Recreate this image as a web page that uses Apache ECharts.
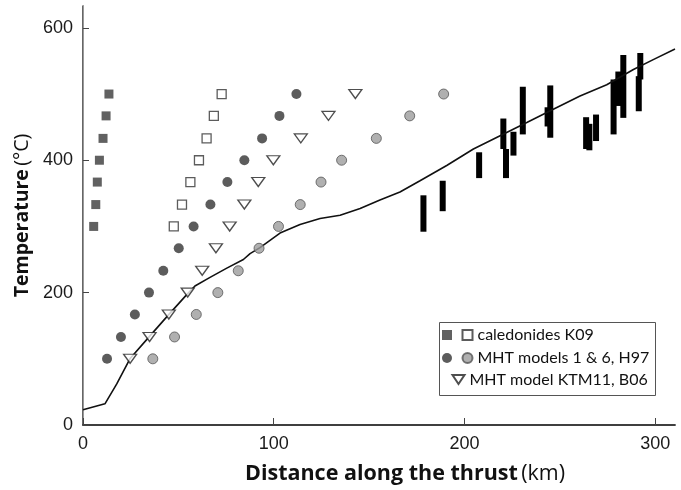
<!DOCTYPE html>
<html>
<head>
<meta charset="utf-8">
<script src="https://cdn.jsdelivr.net/npm/echarts@6/dist/echarts.min.js"></script>
<style>
html,body{margin:0;padding:0;background:#fff;}
#chart{width:681px;height:490px;}
</style>
</head>
<body>
<div id="chart"></div>
<script>
// ---- data ----
const levels = [100,133,167,200,233,267,300,333,367,400,433,467,500];
const caledFilledX = [5.6,6.7,7.5,8.6,10.5,12.1,13.6];           // y: 300..500
const caledOpenX   = [47.6,51.9,56.3,60.8,64.8,68.6,72.7];        // y: 300..500
const h97Model1X   = [12.6,19.9,27.2,34.6,42.1,50.2,58.0,66.8,75.7,84.6,93.9,103.0,111.9]; // y: 100..500
const h97Model6X   = [36.6,48.0,59.4,70.7,81.4,92.3,102.5,113.9,124.8,135.6,153.8,171.3,189.1];
const b06X         = [24.7,34.9,45.0,54.9,62.5,69.7,76.9,84.6,91.9,99.8,114.2,128.7,142.8];
const curveX = [0,11.5,17.7,24.6,34.3,44.7,54.4,58.7,66.6,75.4,84.1,87.6,92.8,103.3,113.8,124.3,134.8,145.3,155.7,166.2,176.7,190.7,204.7,218.7,232.7,246.6,260.6,274.6,288.6,299,310.4];
const curveY = [23,32,62,100,132,166,197,210,223,237,250,259,268,290,303,312,317,327,340,352,369,392,417,437,457,477,497,514,537,552,568];
const barX    = [178.5,188.6,207.7,220.4,221.8,225.7,230.6,245.0,243.6,263.8,265.5,269.0,278.2,280.7,283.3,292.2,291.4];
const barLow  = [292,323,373,417,373,407,439,434,451,417,415,429,439,482,464,522,474];
const barHigh = [347,369,412,463,417,443,511,513,480,465,455,469,522,534,559,562,527];
const xTicks = [0,100,200,300];
const yTicks = [0,200,400,600];
const legendNames = ['caledonides K09','MHT models 1 & 6, H97','MHT model KTM11, B06'];

const pair = (xs, ys) => xs.map((x,i)=>[x, ys[i]]);
const upper = levels.slice(6);

const tickFont = {fontFamily:'Liberation Sans', fontSize:18, color:'#1a1a1a'};
const chart = echarts.init(document.getElementById('chart'), null, {renderer:'canvas'});
chart.setOption({
  animation:false,
  backgroundColor:'#fff',
  grid:{left:83, right:6, top:6, bottom:62},
  xAxis:[{
    type:'value', min:0, max:310.4,
    axisLine:{lineStyle:{color:'#333', width:1.5}},
    axisTick:{inside:true, length:7, customValues:xTicks, lineStyle:{color:'#444'}},
    axisLabel:Object.assign({customValues:xTicks, margin:10}, tickFont),
    splitLine:{show:false},
    name:'{b|Distance along the thrust} {n|(km)}',
    nameLocation:'middle', nameGap:38,
    nameTextStyle:{padding:[0,0,0,52], rich:{
      b:{fontFamily:'Open Sans', fontWeight:'bold', fontSize:21.5, color:'#111'},
      n:{fontFamily:'Open Sans', fontSize:21.5, color:'#111'}}}
  },{
    type:'value', position:'top', min:0, max:310.4,
    axisLine:{show:true, lineStyle:{color:'#333', width:1.5}},
    axisTick:{show:false}, axisLabel:{show:false}, splitLine:{show:false}
  }],
  yAxis:[{
    type:'value', min:0, max:633,
    axisLine:{show:true, lineStyle:{color:'#333', width:1.5}},
    axisTick:{show:true, inside:true, length:6, customValues:yTicks, lineStyle:{color:'#444'}},
    axisLabel:Object.assign({customValues:yTicks, margin:10}, tickFont),
    splitLine:{show:false},
    name:'{b|Temperature} {n|(°C)}',
    nameLocation:'middle', nameGap:40,
    nameTextStyle:{rich:{
      b:{fontFamily:'Open Sans', fontWeight:'bold', fontSize:19.5, color:'#111'},
      n:{fontFamily:'Open Sans', fontSize:19.5, color:'#111'}}}
  },{
    type:'value', position:'right', min:0, max:633,
    axisLine:{show:true, lineStyle:{color:'#999', width:1}},
    axisTick:{show:false}, axisLabel:{show:false}, splitLine:{show:false}
  }],
  legend:[{
    data:['K09 filled','H97 model 1'],
    orient:'vertical', left:442, top:327, padding:0,
    itemWidth:10, itemHeight:10, itemGap:7, itemTextGap:0,
    formatter:()=>' ',
    textStyle:{fontFamily:'Lato', fontSize:16, lineHeight:16}
  },{
    data:[legendNames[0], legendNames[1]],
    orient:'vertical', left:461.5, top:327, padding:0,
    itemWidth:10, itemHeight:10, itemGap:7, itemTextGap:7,
    textStyle:{fontFamily:'Lato', fontSize:16, lineHeight:16, color:'#111'}
  },{
    data:[legendNames[2]],
    orient:'vertical', left:451.5, top:371.5, padding:0,
    itemWidth:12, itemHeight:9, itemTextGap:14.5,
    textStyle:{fontFamily:'Lato', fontSize:16, lineHeight:16, color:'#111'}
  }],
  graphic:[{
    type:'rect', left:437, top:320, z:1,
    shape:{width:216, height:73},
    style:{fill:'none', stroke:'#555', lineWidth:1}
  }],
  series:[
    {type:'line', name:'curve', data:pair(curveX, curveY), showSymbol:false, symbol:'none',
      lineStyle:{color:'#111', width:1.6}, z:3},
    {type:'custom', name:'bars', data:barX.map((x,i)=>[x, barLow[i], barHigh[i]]),
      encode:{x:0, y:[1,2]},
      renderItem:function(params, api){
        const x = api.value(0);
        const top = api.coord([x, api.value(2)]);
        const bot = api.coord([x, api.value(1)]);
        return {type:'rect', shape:{x:top[0]-3, y:top[1], width:6, height:bot[1]-top[1]},
          style:{fill:'#000'}};
      }, z:2},
    {type:'scatter', name:'K09 filled', data:pair(caledFilledX, upper),
      symbol:'rect', symbolSize:9, itemStyle:{color:'#3a3a3a'}, z:4},
    {type:'scatter', name:legendNames[0], data:pair(caledOpenX, upper),
      symbol:'rect', symbolSize:9, itemStyle:{color:'#fff', borderColor:'#333', borderWidth:1.3}, z:4},
    {type:'scatter', name:'H97 model 1', data:pair(h97Model1X, levels),
      symbol:'circle', symbolSize:10, itemStyle:{color:'#333'}, z:4},
    {type:'scatter', name:legendNames[1], data:pair(h97Model6X, levels),
      symbol:'circle', symbolSize:10, itemStyle:{color:'#9c9c9c', borderColor:'#555', borderWidth:1}, z:4},
    {type:'scatter', name:legendNames[2], data:pair(b06X, levels),
      symbol:'path://M0,0L12,0L6,9Z', symbolSize:[13,9],
      itemStyle:{color:'#fff', borderColor:'#222', borderWidth:1.3}, z:4}
  ]
});
</script>
</body>
</html>
